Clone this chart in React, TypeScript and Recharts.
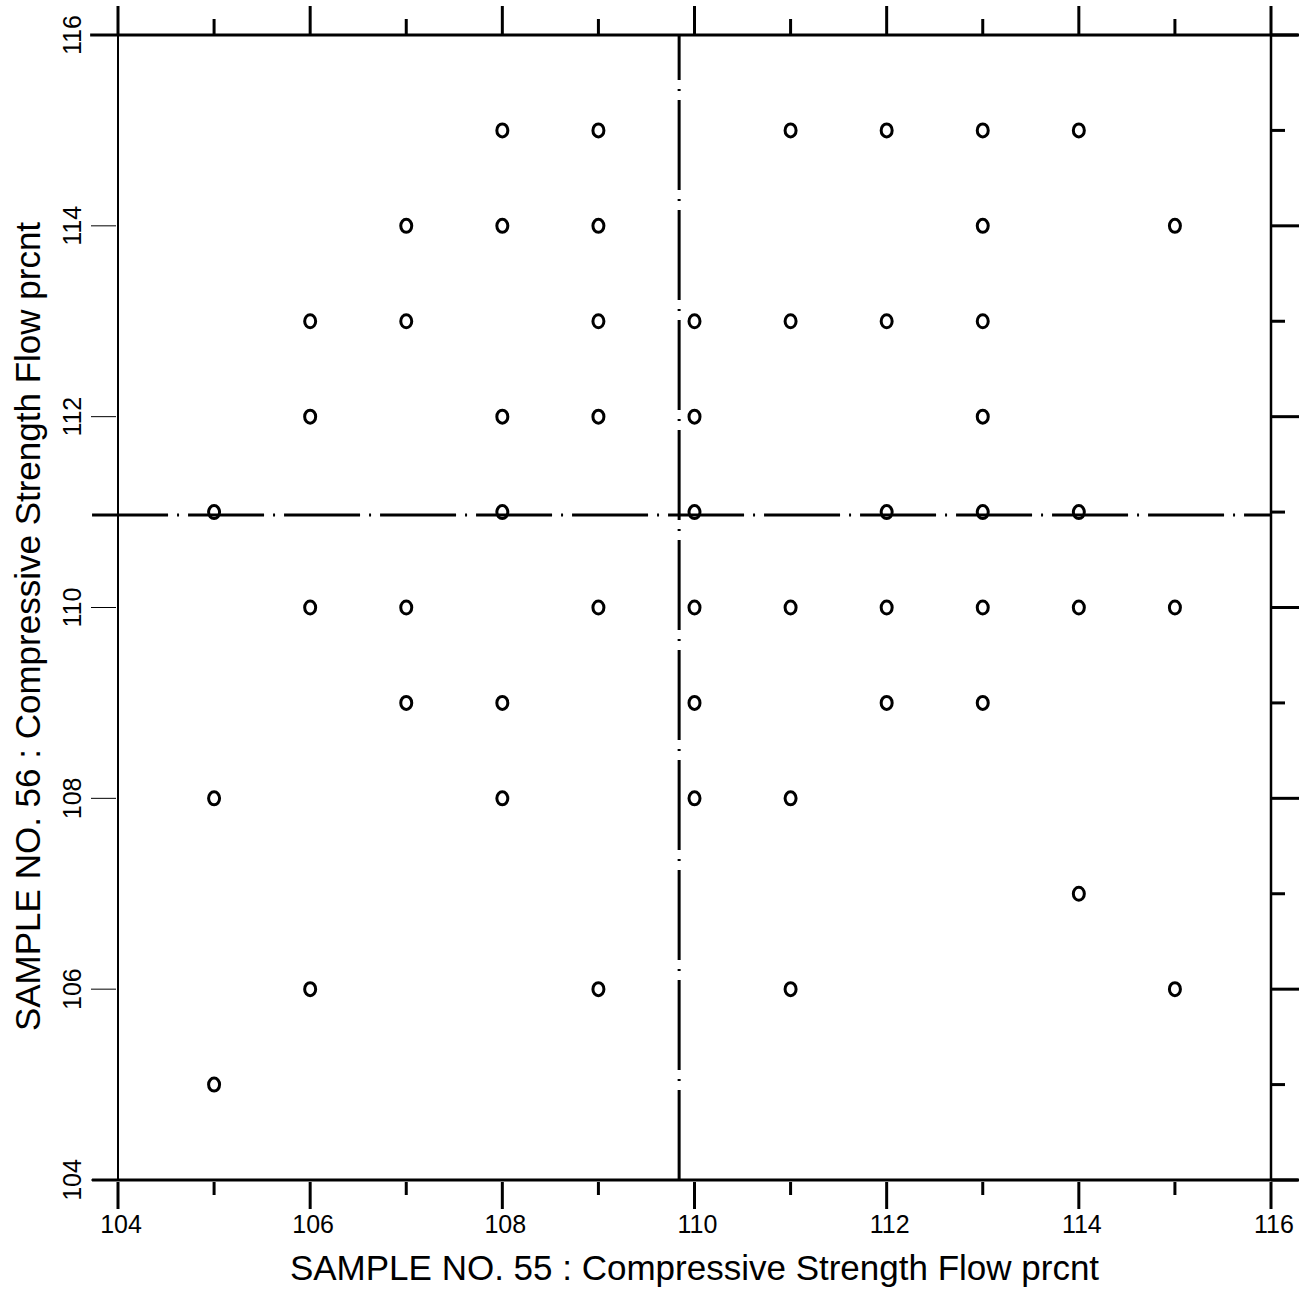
import React from "react";
import { ScatterChart, Scatter, XAxis, YAxis, ReferenceLine, Label } from "recharts";

// axis ticks (every integer), labels only on even values
const ticks = [104, 105, 106, 107, 108, 109, 110, 111, 112, 113, 114, 115, 116];
const labelTicks = [104, 106, 108, 110, 112, 114, 116];

// points grouped by SAMPLE NO. 56 value
const row115 = [108, 109, 111, 112, 113, 114];
const row114 = [107, 108, 109, 113, 115];
const row113 = [106, 107, 109, 110, 111, 112, 113];
const row112 = [106, 108, 109, 110, 113];
const row111 = [105, 108, 110, 112, 113, 114];
const row110 = [106, 107, 109, 110, 111, 112, 113, 114, 115];
const row109 = [107, 108, 110, 112, 113];
const row108 = [105, 108, 110, 111];
const row107 = [114];
const row106 = [106, 109, 111, 115];
const row105 = [105];

const rows: [number, number[]][] = [
  [115, row115],
  [114, row114],
  [113, row113],
  [112, row112],
  [111, row111],
  [110, row110],
  [109, row109],
  [108, row108],
  [107, row107],
  [106, row106],
  [105, row105],
];

const points = rows.flatMap(([y, xs]) => xs.map((x) => ({ x, y })));

// dash-dot median lines
const medianX = 109.84;
const medianY = 110.97;

const FONT = "'Liberation Sans', Arial, sans-serif";

const BottomTick = (props: any) => {
  const { x, y, payload } = props;
  const major = payload.value % 2 === 0;
  return (
    <g>
      <line x1={x} x2={x} y1={y} y2={y + (major ? 27 : 13)} stroke="#000" strokeWidth={3} />
      {major && (
        <text x={x + 3} y={y + 42} textAnchor="middle" dominantBaseline="central" fontSize={25} fill="#000" fontFamily={FONT}>
          {payload.value}
        </text>
      )}
    </g>
  );
};

const TopTick = (props: any) => {
  const { x, y, payload } = props;
  const major = payload.value % 2 === 0;
  return <line x1={x} x2={x} y1={y + 1} y2={y - (major ? 27 : 14)} stroke="#000" strokeWidth={3} />;
};

const LeftTick = (props: any) => {
  const { x, y, payload } = props;
  const tx = x - 44;
  return (
    <g>
      <line x1={x - 25} x2={x} y1={y} y2={y} stroke="#000" strokeWidth={1} />
      <text
        x={tx}
        y={y}
        transform={`rotate(-90, ${tx}, ${y})`}
        textAnchor="middle"
        dominantBaseline="central"
        fontSize={25}
        fill="#000"
        fontFamily={FONT}
      >
        {payload.value}
      </text>
    </g>
  );
};

const RightTick = (props: any) => {
  const { x, y, payload } = props;
  const major = payload.value % 2 === 0;
  return <line x1={x - 2} x2={x + (major ? 26 : 12)} y1={y} y2={y} stroke="#000" strokeWidth={3} />;
};

const Ring = (props: any) => (
  <ellipse cx={props.cx} cy={props.cy} rx={5.5} ry={6.5} fill="none" stroke="#000" strokeWidth={3} />
);

export default function App() {
  return (
    <>
      <style>{"body { margin: 0; }"}</style>
      <ScatterChart
        width={1311}
        height={1292}
        margin={{ top: 34, right: 39, bottom: 0, left: 0 }}
        style={{ fontFamily: FONT }}
      >
        <XAxis
          xAxisId="bottom"
          type="number"
          dataKey="x"
          domain={[104, 116]}
          ticks={ticks}
          interval={0}
          height={112}
          axisLine={false}
          tickLine={false}
          tickSize={0}
          tick={<BottomTick />}
          allowDataOverflow
        >
          <Label
            value="SAMPLE NO. 55 : Compressive Strength Flow prcnt"
            position="center"
            dy={32}
            fontSize={35}
            fill="#000"
            fontFamily={FONT}
          />
        </XAxis>
        <XAxis
          xAxisId="top"
          orientation="top"
          type="number"
          dataKey="x"
          domain={[104, 116]}
          ticks={ticks}
          interval={0}
          height={1}
          axisLine={false}
          tickLine={false}
          tickSize={0}
          tick={<TopTick />}
          allowDataOverflow
        />
        <YAxis
          yAxisId="left"
          type="number"
          dataKey="y"
          domain={[104, 116]}
          ticks={labelTicks}
          interval={0}
          width={118}
          axisLine={{ stroke: "#000", strokeWidth: 2 }}
          tickLine={false}
          tickSize={0}
          tick={<LeftTick />}
          allowDataOverflow
        >
          <Label
            value="SAMPLE NO. 56 : Compressive Strength Flow prcnt"
            position="center"
            angle={-90}
            dx={-31}
            dy={19}
            fontSize={35}
            fill="#000"
            fontFamily={FONT}
          />
        </YAxis>
        <YAxis
          yAxisId="right"
          orientation="right"
          type="number"
          dataKey="y"
          domain={[104, 116]}
          ticks={ticks}
          interval={0}
          width={1}
          axisLine={false}
          tickLine={false}
          tickSize={0}
          tick={<RightTick />}
          allowDataOverflow
        />
        <ReferenceLine
          xAxisId="bottom"
          yAxisId="left"
          segment={[{ x: 116, y: 104 }, { x: 116, y: 116 }]}
          stroke="#000"
          strokeWidth={2.5}
        />
        <ReferenceLine
          xAxisId="bottom"
          yAxisId="left"
          segment={[{ x: 103.71, y: 116 }, { x: 116.28, y: 116 }]}
          stroke="#000"
          strokeWidth={3}
          ifOverflow="visible"
        />
        <ReferenceLine
          xAxisId="bottom"
          yAxisId="left"
          segment={[{ x: 103.73, y: 104 }, { x: 116.28, y: 104 }]}
          stroke="#000"
          strokeWidth={3}
          ifOverflow="visible"
        />
        <ReferenceLine
          xAxisId="bottom"
          yAxisId="left"
          segment={[{ x: 103.73, y: medianY }, { x: 116, y: medianY }]}
          stroke="#000"
          strokeWidth={3}
          strokeDasharray="76 9 2 9"
          ifOverflow="visible"
        />
        <ReferenceLine
          xAxisId="bottom"
          yAxisId="left"
          x={medianX}
          stroke="#000"
          strokeWidth={3}
          strokeDasharray="90 9 2 9"
        />
        <Scatter
          xAxisId="bottom"
          yAxisId="left"
          data={points}
          shape={<Ring />}
          isAnimationActive={false}
        />
      </ScatterChart>
    </>
  );
}
